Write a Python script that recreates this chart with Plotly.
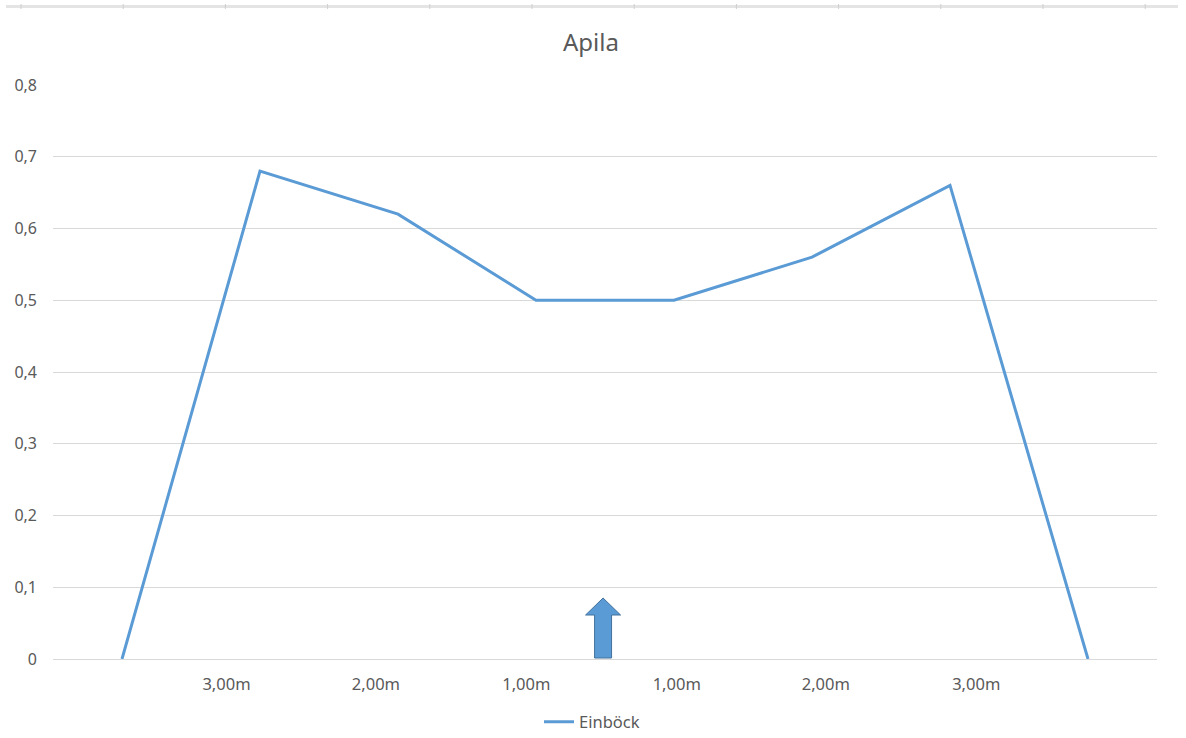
import plotly.graph_objects as go

# ---- data ----
point_index = [0, 1, 2, 3, 4, 5, 6, 7]
einbock = [0, 0.68, 0.62, 0.5, 0.5, 0.56, 0.66, 0]
x_tick_labels = ["3,00m", "2,00m", "1,00m", "1,00m", "2,00m", "3,00m"]
x_tick_pos = [0.757, 1.84, 2.93, 4.02, 5.10, 6.19]
y_ticks = [0, 0.1, 0.2, 0.3, 0.4, 0.5, 0.6, 0.7, 0.8]

W, H = 1186, 738
L, T = 53, 85
R = W - 1157
B = H - 659
FONT = "Noto Sans"
TXT = "#595959"
GRID = "#d9d9d9"
BLUE = "#5b9bd5"

fig = go.Figure()
fig.add_trace(go.Scatter(
    x=point_index, y=einbock, mode="lines", name="Einböck",
    line=dict(color=BLUE, width=3), showlegend=True,
))

# arrow marker near the centre (pixel-sized, anchored to axis)
arrow = "M -8.5,1 L 8.5,1 L 8.5,44 L 17.5,44 L 0,61 L -17.5,44 L -8.5,44 Z"
shapes = [dict(
    type="path", xref="x", yref="y", xsizemode="pixel", ysizemode="pixel",
    xanchor=3.486, yanchor=0, path=arrow,
    fillcolor=BLUE, line=dict(color="#41719c", width=1), layer="above",
)]

# faint sheet border line at top
pw = W - L - R
ph = H - T - B
def px2paper_x(px):
    return (px - L) / pw
def px2paper_y(py):
    return (H - B - py) / ph

shapes.append(dict(type="line", xref="paper", yref="paper",
                   x0=px2paper_x(6), x1=px2paper_x(1178),
                   y0=px2paper_y(6.5), y1=px2paper_y(6.5),
                   line=dict(color="#e4e4e4", width=3)))
k = 21
while k < 1178:
    shapes.append(dict(type="line", xref="paper", yref="paper",
                       x0=px2paper_x(k), x1=px2paper_x(k),
                       y0=px2paper_y(4), y1=px2paper_y(9),
                       line=dict(color="#cfcfcf", width=1)))
    k += 102.2

fig.update_layout(
    width=W, height=H,
    margin=dict(l=L, r=R, t=T, b=B, autoexpand=False),
    paper_bgcolor="white", plot_bgcolor="white",
    separators=", ",
    font=dict(family=FONT, color=TXT, size=16),
    title=dict(text="Apila", x=591 / W, xref="container", xanchor="center",
               y=1 - 43 / H, yref="container", yanchor="middle",
               font=dict(family=FONT, size=24, color=TXT)),
    showlegend=True,
    legend=dict(orientation="h", x=592 / W, xanchor="center", xref="container",
                y=1 - 722 / H, yref="container", yanchor="middle",
                font=dict(family=FONT, size=16.5, color=TXT),
                bgcolor="rgba(0,0,0,0)"),
    xaxis=dict(range=[-0.5, 7.5], showgrid=False, zeroline=False,
               showline=True, linecolor=GRID, linewidth=1,
               tickmode="array", tickvals=x_tick_pos, ticktext=x_tick_labels,
               ticks="", ticklabelstandoff=10,
               tickfont=dict(family=FONT, size=16.5, color=TXT)),
    yaxis=dict(range=[0, 0.8], showgrid=True, gridcolor=GRID, gridwidth=1,
               zeroline=True, zerolinecolor=GRID, zerolinewidth=1,
               tickmode="array", tickvals=y_ticks,
               ticks="", ticklabelstandoff=15,
               tickfont=dict(family=FONT, size=16, color=TXT)),
    shapes=shapes,
)

fig.write_html("out.html", config={"displayModeBar": False},
               post_script="document.body.style.margin='0';")
